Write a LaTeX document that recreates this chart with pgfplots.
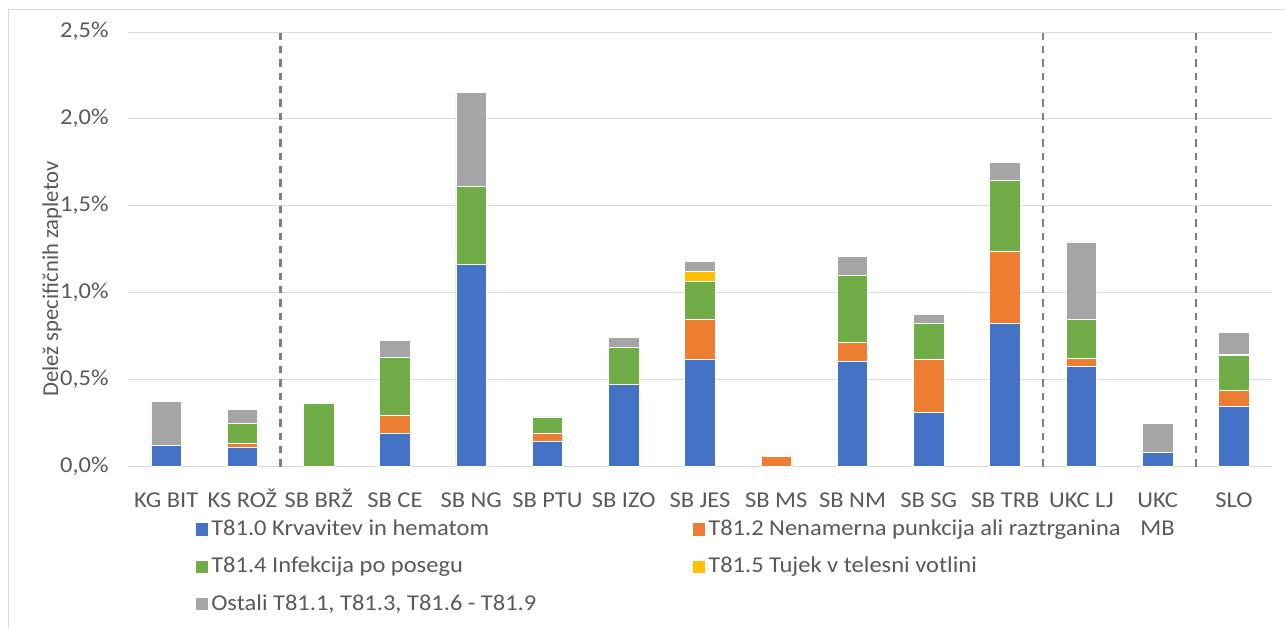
\documentclass[border=0pt]{standalone}
\usepackage{pgfplots}
\pgfplotsset{compat=1.18}
\usepackage{pgfplotstable}
\usepackage{fontspec}
\setmainfont{Carlito}[FakeStretch=1.08]
\newfontfamily\plainfont{Carlito}
\definecolor{cBlue}{HTML}{4472C4}
\definecolor{cOrange}{HTML}{ED7D31}
\definecolor{cGreen}{HTML}{70AD47}
\definecolor{cYellow}{HTML}{FFC000}
\definecolor{cGray}{HTML}{A5A5A5}
\definecolor{txt}{HTML}{595959}
\definecolor{gridc}{HTML}{D9D9D9}
\definecolor{sepc}{HTML}{7F7F7F}

\pgfplotstableread{
x blue orange green yellow gray
0 0.123 0 0 0 0.251
1 0.109 0.027 0.111 0 0.081
2 0 0 0.365 0 0
3 0.192 0.100 0.335 0 0.098
4 1.163 0 0.447 0 0.541
5 0.143 0.048 0.094 0 0
6 0.473 0 0.213 0 0.055
7 0.617 0.228 0.222 0.056 0.058
8 0 0.059 0 0 0
9 0.605 0.111 0.382 0 0.113
10 0.310 0.309 0.205 0 0.053
11 0.824 0.412 0.412 0 0.104
12 0.578 0.046 0.221 0 0.447
13 0.079 0 0 0 0.167
14 0.344 0.096 0.198 0.009 0.125
}\data

\begin{document}
\begin{tikzpicture}
\begin{axis}[
  at={(0,0)}, anchor=south west,
  scale only axis, width=858pt, height=325.9pt,
  xmin=-0.5, xmax=14.5, ymin=0, ymax=2.5,
  ybar stacked, bar width=0.4,
  axis line style={draw=none},
  major tick length=0pt,
  ytick={0,0.5,1,1.5,2,2.5},
  yticklabels={{0,0\%},{0,5\%},{1,0\%},{1,5\%},{2,0\%},{2,5\%}},
  ymajorgrids, major grid style={gridc, line width=0.75pt},
  xtick={0,...,14},
  xticklabels={KG BIT, KS ROŽ, SB BRŽ, SB CE, SB NG, SB PTU, SB IZO, SB JES, SB MS, SB NM, SB SG, SB TRB, UKC LJ, {UKC\\MB}, SLO},
  typeset ticklabels with strut,
  tick label style={font=\fontsize{17}{21}\selectfont, text=txt},
  xticklabel style={align=center, anchor=north, yshift=-12.2pt},
  yticklabel style={anchor=east, xshift=-11pt},
  extra x ticks={1.5,11.5,13.5},
  extra x tick labels={,,},
  extra x tick style={xmajorgrids=true, major grid style={sepc, line width=1.6pt, dash pattern=on 5.5pt off 4.5pt}},
  ylabel={Delež specifičnih zapletov},
  ylabel style={at={(axis description cs:-0.0664,0.4315)}, anchor=center, font=\plainfont\fontsize{17}{21}\selectfont, text=txt},
  legend columns=2,
  legend cell align=left,
  legend image code/.code={\fill[#1] (0pt,-5pt) rectangle (10pt,5pt);},
  legend style={at={(axis description cs:0.058,-0.109)}, anchor=north west, draw=none, fill=none,
    font=\fontsize{17}{21}\selectfont, text=txt, inner sep=0pt, row sep=5pt,
    nodes={inner sep=2pt, text height=14pt, text depth=5pt},
    /tikz/every even column/.append style={column sep=114.5pt}},
]
\addplot[fill=cBlue, draw=white, line width=0.5pt] table[x=x,y=blue]{\data};
\addlegendentry{T81.0 Krvavitev in hematom}
\addplot[fill=cOrange, draw=white, line width=0.5pt] table[x=x,y=orange]{\data};
\addlegendentry{T81.2 Nenamerna punkcija ali raztrganina}
\addplot[fill=cGreen, draw=white, line width=0.5pt] table[x=x,y=green]{\data};
\addlegendentry{T81.4 Infekcija po posegu}
\addplot[fill=cYellow, draw=white, line width=0.5pt] table[x=x,y=yellow]{\data};
\addlegendentry{T81.5 Tujek v telesni votlini}
\addplot[fill=cGray, draw=white, line width=0.5pt] table[x=x,y=gray]{\data};
\addlegendentry{Ostali T81.1, T81.3, T81.6 - T81.9}
\end{axis}
\draw[gridc, line width=0.75pt] (-89.25pt,-130pt) -- (-89.25pt,342.4pt) -- (880pt,342.4pt);
\pgfresetboundingbox
\useasboundingbox (-96pt,-121.1pt) rectangle (867.75pt,349.9pt);
\end{tikzpicture}
\end{document}
